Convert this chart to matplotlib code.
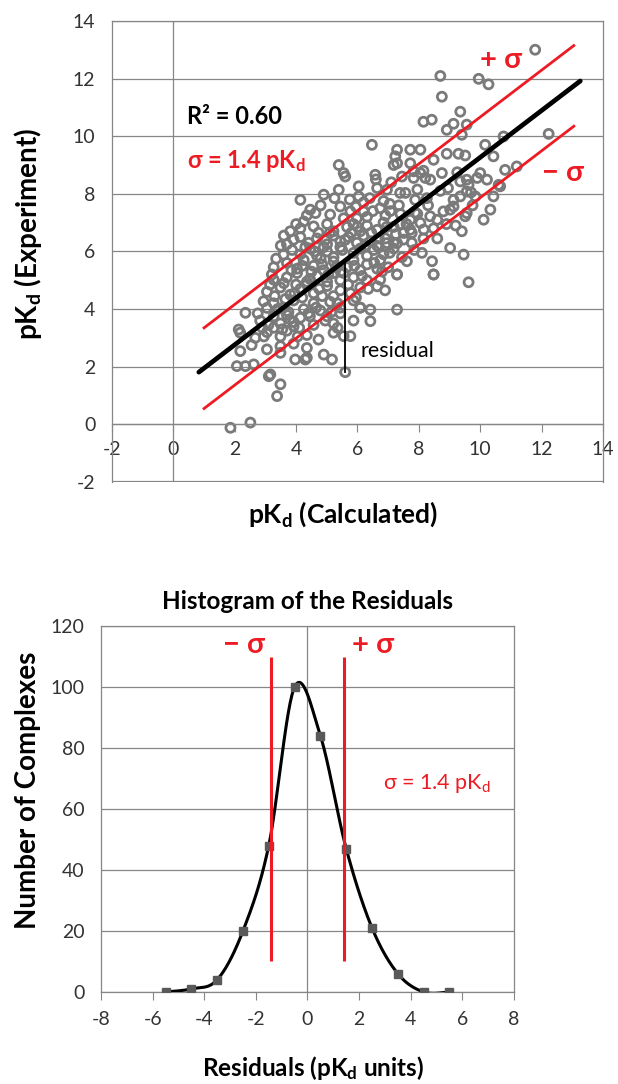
import numpy as np
import matplotlib
matplotlib.use('Agg')
import matplotlib.pyplot as plt

plt.rcParams['font.family'] = ['Lato', 'DejaVu Sans']
plt.rcParams['axes.unicode_minus'] = False

calc = [
    # outliers upper right
    11.79, 8.70, 9.95, 10.27, 8.75, 9.35, 12.23, 8.15, 8.42, 8.91, 9.13, 9.40, 9.56, 10.76,
    6.47, 7.29, 7.72, 8.05, 7.23, 7.29, 8.91, 9.29, 9.51, 10.16, 10.43, 5.39, 5.55, 5.60,
    7.18, 7.72, 8.48, 7.83, 8.05, 11.19, 10.81, 6.58, 8.75, 10.00, 10.22, 10.60, 10.65,
    9.35, 9.56, 9.62, 7.83, 8.21, 8.37, 6.04, 5.39, 6.64, 6.96, 7.39, 7.56,
    9.13, 9.35, 9.56, 9.84, 10.43, 8.80, 9.02, 9.13, 9.51, 9.56, 10.11, 10.33, 8.37,
    9.02, 9.46, 8.43, 8.48, 9.62, 7.61, 7.29, 7.29, 6.42, 6.09, 6.42, 6.74, 6.64,
    # row y 7.6-8.0
    4.14, 4.90, 6.04, 6.20, 6.85, 7.88, 8.26, 5.75, 7.05,
    # row y 7.1-7.6
    4.46, 4.63, 5.11, 5.44, 5.77, 6.20, 6.31, 6.74, 6.91, 7.07, 7.72, 7.88, 8.05, 5.98, 6.50, 7.40,
    # row y 6.6-7.1
    3.81, 4.14, 4.25, 4.57, 4.73, 5.01, 5.22, 5.66, 5.87, 6.09, 6.31, 6.64, 6.85, 7.18, 7.39,
    7.72, 8.16, 7.77, 7.50, 8.48, 9.20, 9.40,
    # row y 6.2-6.6
    3.70, 3.92, 4.14, 4.41, 4.68, 5.01, 5.22, 5.44, 5.71, 5.98, 6.20, 6.42, 6.64, 6.91, 7.18,
    7.50, 7.77, 8.15, 6.96, 7.29,
    # row y 5.8-6.2
    3.59, 3.87, 4.14, 4.46, 4.68, 5.01, 5.22, 5.44, 5.87, 6.09, 6.31, 6.53, 6.85, 7.18, 4.90, 6.70,
    # row y 5.3-5.8
    3.27, 3.70, 4.03, 4.25, 4.57, 4.90, 5.22, 5.66, 5.87, 6.09, 6.31, 6.64, 6.74, 4.80, 5.45,
    # row y 4.9-5.3
    3.21, 3.27, 3.70, 4.03, 4.35, 4.68, 5.01, 5.22, 5.44, 5.87, 6.31, 7.29, 8.48, 4.50,
    # row y 4.4-4.9
    3.05, 3.49, 3.81, 4.14, 4.57, 5.01, 5.22, 5.44, 5.77, 6.09, 3.30, 4.35, 5.95,
    # row y 3.9-4.4
    2.94, 3.05, 3.27, 3.59, 3.92, 4.25, 4.57, 4.79, 5.11, 5.44, 5.87, 6.09, 3.75,
    # row y 3.4-3.9
    2.35, 2.83, 3.27, 3.49, 3.70, 3.92, 4.14, 4.57, 5.01, 5.22, 5.44, 5.87, 3.10, 4.40,
    # row y 3.0-3.4
    2.13, 2.18, 2.67, 3.05, 3.27, 3.49, 3.70, 3.92, 4.35, 4.73, 5.22, 5.55, 5.77, 2.90, 4.05,
    # row y 2.4-3.0
    2.18, 3.05, 3.49, 3.49, 3.92, 4.35, 4.90, 2.55,
    # low points
    2.07, 2.35, 2.62, 3.97, 4.30, 4.35, 5.17, 5.60, 3.11, 3.16, 3.49, 3.38, 1.86, 2.51,
    # extra points in the dense core
    3.60, 3.85, 4.00, 4.20, 4.30, 4.45, 4.60, 4.75, 4.85, 4.95, 5.05, 5.10, 5.30, 5.35,
    5.50, 5.55, 5.60, 5.70, 5.80, 5.90, 6.00, 6.15, 6.25, 6.35, 6.45, 6.55, 6.70, 6.80,
    6.95, 7.05, 7.25, 7.35, 7.60, 7.95, 8.30, 8.60, 8.70, 3.40, 3.55, 3.65, 3.80, 3.95,
    4.10, 4.20, 4.45, 4.65, 4.85, 4.95, 5.15, 5.35, 2.75, 2.95, 3.15, 3.35, 3.50, 3.60,
    4.00, 4.35, 4.80, 5.25, 5.55, 5.95, 6.40, 6.60, 7.10, 7.45, 7.95, 8.15, 8.95, 9.25,
    9.70, 9.90, 8.60, 8.90, 9.75, 8.10, 7.85, 7.45, 6.90, 7.00,
]
expt = [
    13.00, 12.09, 11.99, 11.80, 11.37, 10.85, 10.08, 10.50, 10.57, 10.22, 10.43, 10.05, 10.40, 9.99,
    9.70, 9.53, 9.53, 9.53, 9.30, 9.06, 9.39, 9.39, 9.33, 9.70, 9.30, 9.00, 8.72, 8.60,
    9.00, 9.06, 9.18, 8.78, 8.72, 8.95, 8.83, 8.66, 8.72, 8.72, 8.49, 8.31, 8.26,
    8.43, 8.49, 8.31, 8.55, 8.55, 8.49, 8.26, 8.14, 8.20, 8.14, 8.03, 8.03,
    7.79, 7.91, 8.08, 7.91, 7.91, 7.39, 7.45, 7.56, 7.22, 7.33, 7.10, 7.45, 7.22,
    6.12, 5.89, 5.66, 5.20, 4.93, 5.66, 5.20, 3.98, 3.58, 4.05, 3.98, 5.02, 4.79,
    7.79, 7.97, 7.91, 7.70, 7.75, 7.79, 7.85, 7.80, 7.65,
    7.45, 7.33, 7.28, 7.56, 7.39, 7.39, 7.20, 7.50, 7.25, 7.40, 7.10, 7.35, 6.99, 7.15, 7.40, 7.30,
    6.70, 6.80, 7.04, 6.87, 6.65, 6.95, 6.70, 6.85, 6.95, 6.70, 6.90, 6.75, 7.00, 6.85, 6.95,
    6.75, 6.76, 6.64, 6.64, 6.80, 6.90, 6.70,
    6.25, 6.41, 6.50, 6.30, 6.45, 6.25, 6.55, 6.35, 6.50, 6.30, 6.55, 6.35, 6.20, 6.45, 6.30,
    6.41, 6.30, 6.45, 6.29, 6.29,
    5.89, 6.05, 5.90, 6.10, 5.85, 6.00, 5.80, 6.15, 5.95, 6.10, 5.85, 6.05, 5.90, 6.10, 6.15, 6.15,
    5.45, 5.60, 5.40, 5.70, 5.50, 5.35, 5.65, 5.45, 5.70, 5.35, 5.55, 5.40, 5.70, 5.75, 5.30,
    5.20, 5.02, 5.10, 5.25, 4.95, 5.15, 4.95, 5.25, 5.00, 5.10, 5.00, 5.20, 5.20, 5.30,
    4.60, 4.75, 4.50, 4.70, 4.55, 4.80, 4.45, 4.65, 4.55, 4.75, 4.45, 4.85, 4.40,
    4.27, 4.04, 4.20, 4.05, 4.30, 4.00, 4.20, 3.95, 4.25, 4.05, 4.30, 4.05, 3.90,
    3.87, 3.60, 3.75, 3.50, 3.80, 3.55, 3.70, 3.45, 3.75, 3.50, 3.85, 3.60, 3.45, 3.85,
    3.29, 3.18, 3.00, 3.20, 3.35, 3.05, 3.25, 3.40, 3.10, 2.94, 3.18, 3.06, 3.06, 3.35, 3.05,
    2.54, 2.60, 2.48, 2.71, 2.80, 2.65, 2.42, 2.75,
    2.02, 2.02, 2.08, 2.25, 2.25, 2.31, 2.25, 1.81, 1.67, 1.73, 1.39, 0.98, -0.12, 0.06,
    4.90, 5.35, 4.85, 5.50, 6.15, 5.05, 6.00, 4.70, 5.55, 6.40, 5.20, 6.65, 5.45, 4.20,
    6.05, 5.25, 6.40, 4.85, 6.65, 5.50, 6.85, 5.15, 6.20, 4.70, 6.65, 5.60, 6.45, 5.30,
    6.85, 5.95, 6.60, 7.60, 6.95, 7.30, 7.60, 7.10, 8.10, 4.00, 3.30, 4.35, 3.65, 4.55,
    3.35, 4.40, 3.75, 4.05, 4.45, 3.60, 3.90, 3.35, 3.85, 3.05, 4.85, 5.75, 6.20, 6.55,
    6.95, 7.25, 7.60, 7.85, 7.15, 7.55, 7.85, 8.50, 8.40, 8.60, 8.15, 8.80, 8.20, 8.75,
    8.05, 8.55, 6.45, 6.95, 7.60, 5.95, 6.05, 5.80, 4.65, 5.45,
]

# trend line and sigma band as drawn
fit_slope = 0.813
fit_intercept = 1.135
fit_x = [0.83, 13.26]
band_x = [1.0, 13.05]
sigma = 1.4
residual_x = 5.60
residual_y = 1.81

# ---- bottom panel: histogram of the residuals ----
bin_centers = [-5.5, -4.5, -3.5, -2.5, -1.5, -0.5, 0.5, 1.5, 2.5, 3.5, 4.5, 5.5]
bin_counts = [0, 1, 4, 20, 48, 100, 84, 47, 21, 6, 0, 0]

RED = '#ed1c24'
GRID = '#868686'
TICK = '#333333'
GRAY_PT = '#7a7a7a'


def smooth_curve(xs, ys, n=30):
    # excel-like smoothed line (catmull-rom / cubic bezier through the points)
    P = np.column_stack([xs, ys]).astype(float)
    P = np.vstack([P[0], P, P[-1]])
    out = []
    t = np.linspace(0, 1, n)[:, None]
    for i in range(1, len(P) - 2):
        p0, p1, p2, p3 = P[i - 1], P[i], P[i + 1], P[i + 2]
        c1 = p1 + (p2 - p0) / 6.0
        c2 = p2 - (p3 - p1) / 6.0
        seg = ((1 - t) ** 3) * p1 + 3 * ((1 - t) ** 2) * t * c1 + 3 * (1 - t) * t ** 2 * c2 + t ** 3 * p2
        out.append(seg)
    out = np.vstack(out)
    return out[:, 0], out[:, 1]


fig = plt.figure(figsize=(6.18, 10.84), dpi=100)

# ---------------- top scatter ----------------
ax1 = fig.add_axes([0.1812, 0.5554, 0.7945, 0.4253])
ax1.set_xlim(-2, 14)
ax1.set_ylim(-2, 14)
ax1.set_xticks(range(-2, 15, 2))
ax1.set_yticks(range(-2, 15, 2))
ax1.grid(axis='y', color=GRID, lw=0.9, zorder=0)
ax1.set_axisbelow(True)
for s in ax1.spines.values():
    s.set_color(GRID)
    s.set_linewidth(0.9)
ax1.spines['bottom'].set_position(('data', 0))
ax1.axhline(-2, color=GRID, lw=1.6, zorder=0)
ax1.axvline(0, color=GRID, lw=0.9, zorder=1)
ax1.tick_params(axis='y', length=0, pad=12, labelsize=14, labelcolor=TICK)
ax1.tick_params(axis='x', direction='out', length=6, color=GRID, pad=6, labelsize=14, labelcolor=TICK)

ax1.scatter(calc, expt, s=42, facecolors='none', edgecolors=GRAY_PT, linewidths=2.0, zorder=2)

fx = np.array(fit_x)
ax1.plot(fx, fit_slope * fx + fit_intercept, color='black', lw=3.4, solid_capstyle='round', zorder=4)
bx = np.array(band_x)
ax1.plot(bx, fit_slope * bx + fit_intercept + sigma, color=RED, lw=2, zorder=3)
ax1.plot(bx, fit_slope * bx + fit_intercept - sigma, color=RED, lw=2, zorder=3)
ax1.plot([residual_x, residual_x], [residual_y, fit_slope * residual_x + fit_intercept],
         color='black', lw=1.3, zorder=4)

ax1.text(0.45, 10.68, 'R² = 0.60', fontsize=17, weight='bold', va='center', ha='left')
ax1.text(0.45, 9.15, 'σ = 1.4 pK$\\mathregular{_d}$', fontsize=17, weight='bold', color=RED,
         va='center', ha='left')
ax1.text(10.0, 12.64, '+ σ', fontsize=21, weight='bold', color=RED, va='center', ha='left')
ax1.text(12.0, 8.72, '− σ', fontsize=21, weight='bold', color=RED, va='center', ha='left')
ax1.text(6.09, 2.54, 'residual', fontsize=15.5, va='center', ha='left')

fig.text(0.046, 0.784, 'pK$\\mathregular{_d}$ (Experiment)', rotation=90, fontsize=20,
         weight='bold', ha='center', va='center')
fig.text(0.555, 0.526, 'pK$\\mathregular{_d}$ (Calculated)', fontsize=19,
         weight='bold', ha='center', va='center')

# ---------------- bottom histogram ----------------
ax2 = fig.add_axes([0.1634, 0.0849, 0.6683, 0.3376])
ax2.set_xlim(-8, 8)
ax2.set_ylim(0, 120)
ax2.set_xticks(range(-8, 9, 2))
ax2.set_yticks(range(0, 121, 20))
ax2.grid(axis='y', color=GRID, lw=0.9, zorder=0)
ax2.set_axisbelow(True)
for s in ax2.spines.values():
    s.set_color(GRID)
    s.set_linewidth(0.9)
ax2.axvline(0, color=GRID, lw=0.9, zorder=1)
ax2.tick_params(axis='y', length=0, pad=12, labelsize=14, labelcolor=TICK)
ax2.tick_params(axis='x', direction='out', length=6, color=GRID, pad=8, labelsize=14, labelcolor=TICK)

cx, cy = smooth_curve(bin_centers, bin_counts)
ax2.plot(cx, cy, color='black', lw=2.2, zorder=3)
ax2.plot(bin_centers, bin_counts, linestyle='none', marker='s', markersize=5.5,
         color='#595959', zorder=4)
ax2.vlines([-sigma, sigma], 10, 110, color=RED, lw=2.2, zorder=5)

ax2.text(-3.27, 113.8, '− σ', fontsize=21, weight='bold', color=RED, va='center', ha='left')
ax2.text(1.73, 113.8, '+ σ', fontsize=21, weight='bold', color=RED, va='center', ha='left')
ax2.text(2.93, 68.5, 'σ = 1.4 pK$\\mathregular{_d}$', fontsize=15.5, color=RED, va='center', ha='left')

ax2.set_title('Histogram of the Residuals', fontsize=17.5, weight='bold', pad=12)
fig.text(0.046, 0.271, 'Number of Complexes', rotation=90, fontsize=20,
         weight='bold', ha='center', va='center')
fig.text(0.506, 0.015, 'Residuals (pK$\\mathregular{_d}$ units)', fontsize=17.5,
         weight='bold', ha='center', va='center')

fig.savefig('out.png', dpi=100)
